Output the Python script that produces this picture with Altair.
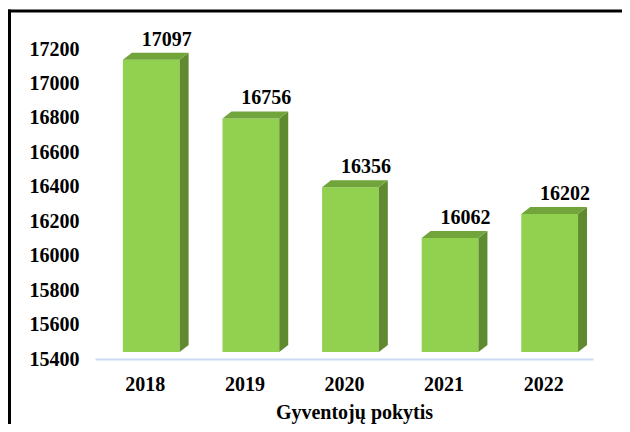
import altair as alt
import pandas as pd

years = ["2018", "2019", "2020", "2021", "2022"]
values = [17097, 16756, 16356, 16062, 16202]
y_ticks = [15400, 15600, 15800, 16000, 16200, 16400, 16600, 16800, 17000, 17200]
title = "Gyventojų pokytis"

Y_MIN, Y_MAX = 15400, 17200
W, H = 498, 310
FRONT_L, FRONT_R, DEPTH_X = -0.22, 0.35, 0.09
DEPTH_PX = 7
dyu = DEPTH_PX * (Y_MAX - Y_MIN) / H

FONT = "Liberation Serif"
FS = 20
FRONT_C, SIDE_C, TOP_C = "#92d050", "#5f8a30", "#71a43b"

front_rows, side_rows, top_rows, text_rows = [], [], [], []
for i, (yr, v) in enumerate(zip(years, values)):
    c = i + 0.5
    fl, fr = c + FRONT_L, c + FRONT_R
    front_rows.append({"id": yr, "x": fl, "x2": fr, "y": Y_MIN + dyu, "y2": v + dyu})
    side_rows += [
        {"id": yr, "x": fr, "lo": Y_MIN + dyu, "hi": v + dyu},
        {"id": yr, "x": fr + DEPTH_X, "lo": Y_MIN + 2 * dyu, "hi": v + 2 * dyu},
    ]
    top_rows += [
        {"id": yr, "x": fl, "lo": v + dyu, "hi": v + dyu},
        {"id": yr, "x": fl + DEPTH_X, "lo": v + dyu, "hi": v + 2 * dyu},
        {"id": yr, "x": fr, "lo": v + dyu, "hi": v + 2 * dyu},
        {"id": yr, "x": fr + DEPTH_X, "lo": v + 2 * dyu, "hi": v + 2 * dyu},
    ]
    text_rows.append({"id": yr, "x": c + 0.22, "v": v, "label": str(v)})

label_expr = "[" + ",".join(f"'{y}'" for y in years) + "][floor(datum.value)]"

xscale = alt.Scale(domain=[0, len(years)], nice=False, zero=False)
yscale = alt.Scale(domain=[Y_MIN, Y_MAX], nice=False, zero=False)

xaxis = alt.Axis(
    values=[i + 0.5 for i in range(len(years))],
    labelExpr=label_expr,
    title=title,
    grid=False,
    ticks=False,
    domainColor="#c9daf0",
    domainWidth=2,
    labelFont=FONT,
    labelFontWeight="bold",
    labelFontSize=FS,
    labelColor="#000000",
    labelPadding=15,
    labelOverlap=False,
    titleFont=FONT,
    titleFontWeight="bold",
    titleFontSize=FS,
    titleColor="#000000",
    titlePadding=8,
    titleX=259,
)
yaxis = alt.Axis(
    values=y_ticks,
    title=None,
    grid=False,
    ticks=False,
    domain=False,
    labelFont=FONT,
    labelFontWeight="bold",
    labelFontSize=FS,
    labelColor="#000000",
    labelPadding=16,
    labelOverlap=False,
    format="d",
)

front = alt.Chart(pd.DataFrame(front_rows)).mark_rect(color=FRONT_C).encode(
    x=alt.X("x:Q", scale=xscale, axis=xaxis),
    x2="x2:Q",
    y=alt.Y("y:Q", scale=yscale, axis=yaxis),
    y2="y2:Q",
)
side = alt.Chart(pd.DataFrame(side_rows)).mark_area(color=SIDE_C).encode(
    x=alt.X("x:Q", scale=xscale, axis=xaxis),
    y=alt.Y("lo:Q", scale=yscale, stack=None, axis=yaxis),
    y2="hi:Q",
    detail="id:N",
)
top = alt.Chart(pd.DataFrame(top_rows)).mark_area(color=TOP_C).encode(
    x=alt.X("x:Q", scale=xscale, axis=xaxis),
    y=alt.Y("lo:Q", scale=yscale, stack=None, axis=yaxis),
    y2="hi:Q",
    detail="id:N",
)
text = alt.Chart(pd.DataFrame(text_rows)).mark_text(
    font=FONT, fontWeight="bold", fontSize=FS, color="#000000",
    align="center", baseline="alphabetic", dy=-21,
).encode(
    x=alt.X("x:Q", scale=xscale, axis=xaxis),
    y=alt.Y("v:Q", scale=yscale, axis=yaxis),
    text="label:N",
)

one = pd.DataFrame({"a": [0]})
frame_top = alt.Chart(one).mark_rule(color="#000000", strokeWidth=3).encode(
    x=alt.value(-88), x2=alt.value(540), y=alt.value(-38)
)
frame_left = alt.Chart(one).mark_rule(color="#000000", strokeWidth=3).encode(
    x=alt.value(-85.5), y=alt.value(-39.5), y2=alt.value(380)
)

chart = alt.layer(front, side, top, text, frame_top, frame_left).properties(
    width=W,
    height=H,
    autosize=alt.AutoSizeParams(type="none"),
    padding={"left": 87, "top": 41, "right": 29, "bottom": 65},
    background="#ffffff",
).configure_view(stroke=None).configure_axis(labelOverlap=False)

chart.save("out.html", embed_options={"renderer": "svg", "actions": False})
